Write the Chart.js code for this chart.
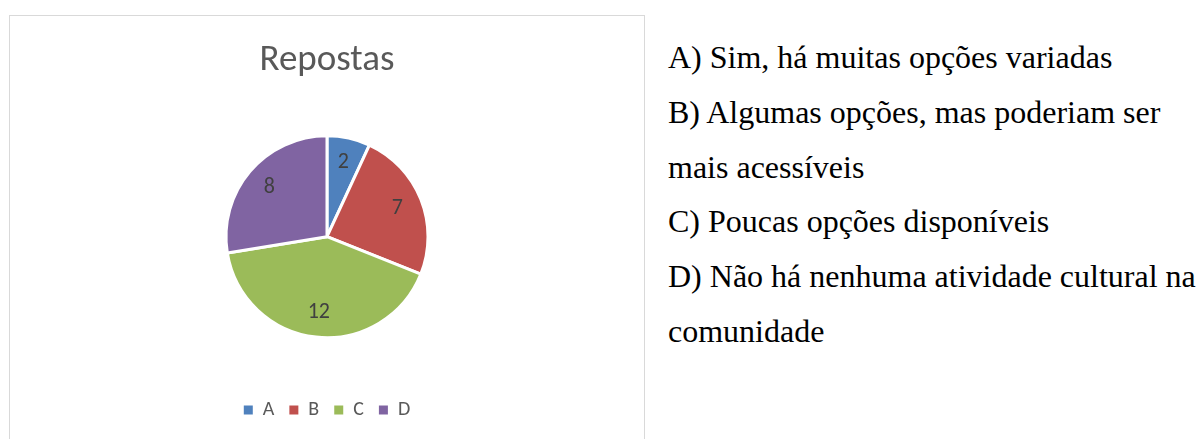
<!DOCTYPE html>
<html>
<head>
<meta charset="utf-8">
<script src="https://cdn.jsdelivr.net/npm/chart.js@4"></script>
<style>
  html, body { margin: 0; padding: 0; background: #fff; width: 1200px; height: 439px; overflow: hidden; }
  #box { position: absolute; left: 9px; top: 15px; width: 634px; height: 440px; border: 1px solid #d9d9d9; }
  #respostas { position: absolute; left: 0; top: 0; }
  #notes { position: absolute; left: 668px; top: 30px; width: 540px; font-family: "Liberation Serif", "Times New Roman", serif; font-size: 32px; line-height: 54.8px; color: #000; white-space: nowrap; }
  #notes p { margin: 0; }
</style>
</head>
<body>
<div id="box"><canvas id="respostas" width="634" height="423"></canvas></div>
<div id="notes">
  <p>A) Sim, há muitas opções variadas</p>
  <p>B) Algumas opções, mas poderiam ser<br>mais acessíveis</p>
  <p>C) Poucas opções disponíveis</p>
  <p>D) Não há nenhuma atividade cultural na<br>comunidade</p>
</div>
<script>
const categorias = ['A', 'B', 'C', 'D'];
const respostas = [2, 7, 12, 8];
const cores = ['#4f81bd', '#c0504d', '#9bbb59', '#8064a2'];
const titulo = 'Repostas';

const fonte = 'Carlito, Lato, sans-serif';

// rótulos dentro das fatias, como no Excel
const rotulosFatias = {
  id: 'rotulosFatias',
  afterDatasetsDraw(chart) {
    const { ctx } = chart;
    const meta = chart.getDatasetMeta(0);
    ctx.save();
    ctx.font = '22px ' + fonte;
    ctx.fillStyle = '#404040';
    ctx.textAlign = 'center';
    ctx.textBaseline = 'middle';
    meta.data.forEach((arc, i) => {
      const { x, y, startAngle, endAngle, outerRadius } = arc.getProps(['x', 'y', 'startAngle', 'endAngle', 'outerRadius'], true);
      const meio = (startAngle + endAngle) / 2;
      const r = outerRadius * 0.75;
      ctx.fillText(String(chart.data.datasets[0].data[i]), x + Math.cos(meio) * r, y + Math.sin(meio) * r);
    });
    ctx.restore();
  }
};

new Chart(document.getElementById('respostas'), {
  type: 'pie',
  data: {
    labels: categorias,
    datasets: [{
      data: respostas,
      backgroundColor: cores,
      borderColor: '#ffffff',
      borderWidth: 3,
      radius: 101
    }]
  },
  options: {
    responsive: false,
    animation: false,
    layout: { padding: { bottom: 9 } },
    plugins: {
      title: {
        display: true,
        text: titulo,
        color: '#595959',
        font: { family: fonte, size: 37, weight: 'normal' },
        padding: { top: 23, bottom: 5 }
      },
      legend: {
        position: 'bottom',
        labels: {
          color: '#595959',
          font: { family: fonte, size: 20 },
          boxWidth: 9,
          boxHeight: 9,
          padding: 15,
          generateLabels(chart) {
            const base = Chart.overrides.pie.plugins.legend.labels.generateLabels(chart);
            return base.map(item => ({ ...item, lineWidth: 0, strokeStyle: item.fillStyle }));
          }
        }
      },
      tooltip: { enabled: false }
    }
  },
  plugins: [rotulosFatias]
});
</script>
</body>
</html>
